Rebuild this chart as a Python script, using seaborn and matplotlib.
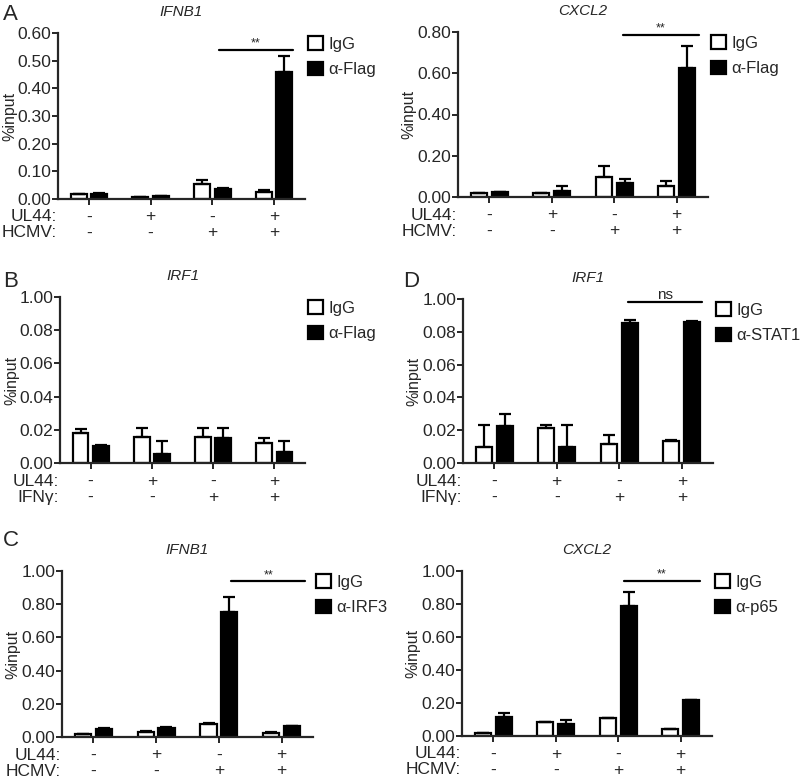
import numpy as np
import pandas as pd
import seaborn as sns
import matplotlib
matplotlib.use("Agg")
from matplotlib import pyplot as plt
from matplotlib.patches import Patch
from matplotlib.transforms import offset_copy

sns.set_style("ticks")
plt.rcParams['font.family'] = ['Liberation Sans', 'DejaVu Sans']

# ---- data ----
groups = ["g1", "g2", "g3", "g4"]
ul44 = ["-", "+", "-", "+"]
treat = ["-", "-", "+", "+"]

# A: IFNB1, IgG vs a-Flag
a_igg = [0.018, 0.007, 0.055, 0.025]
a_igg_err = [0.0, 0.0, 0.015, 0.009]
a_ab = [0.018, 0.010, 0.035, 0.460]
a_ab_err = [0.002, 0.002, 0.003, 0.056]

# A right: CXCL2, IgG vs a-Flag
a2_igg = [0.018, 0.018, 0.097, 0.054]
a2_igg_err = [0.0, 0.0, 0.052, 0.026]
a2_ab = [0.022, 0.029, 0.070, 0.625]
a2_ab_err = [0.0, 0.025, 0.016, 0.108]

# B: IRF1, IgG vs a-Flag
b_igg = [0.018, 0.0155, 0.0155, 0.012]
b_igg_err = [0.0022, 0.0056, 0.0056, 0.003]
b_ab = [0.0102, 0.0056, 0.0149, 0.0068]
b_ab_err = [0.0008, 0.0077, 0.006, 0.0065]

# D: IRF1, IgG vs a-STAT1
d_igg = [0.0096, 0.0212, 0.0116, 0.0135]
d_igg_err = [0.0133, 0.0017, 0.0055, 0.0008]
d_ab = [0.0225, 0.0096, 0.0853, 0.0861]
d_ab_err = [0.0075, 0.0133, 0.002, 0.0003]

# C: IFNB1, IgG vs a-IRF3
c_igg = [0.018, 0.032, 0.080, 0.026]
c_igg_err = [0.0, 0.003, 0.005, 0.003]
c_ab = [0.048, 0.056, 0.755, 0.066]
c_ab_err = [0.005, 0.004, 0.086, 0.003]

# C right: CXCL2, IgG vs a-p65
c2_igg = [0.018, 0.087, 0.107, 0.040]
c2_igg_err = [0.0, 0.0, 0.003, 0.004]
c2_ab = [0.117, 0.073, 0.790, 0.218]
c2_ab_err = [0.024, 0.024, 0.081, 0.003]

W, H = 800, 778
fig = plt.figure(figsize=(W / 100, H / 100), dpi=100)


def make_axes(l, r, t, b):
    return fig.add_axes([l / W, 1 - b / H, (r - l) / W, (b - t) / H])


def panel(ax, gene, ab, igg, igg_err, abv, ab_err, ymax, yticks, ylabels,
          row2, sig=None):
    df = pd.DataFrame({
        "group": groups * 2,
        "ab": ["IgG"] * 4 + [ab] * 4,
        "val": igg + abv,
        "err": igg_err + ab_err,
    })
    sns.barplot(data=df, x="group", y="val", hue="ab", order=groups,
                hue_order=["IgG", ab], palette={"IgG": "white", ab: "black"},
                edgecolor="black", linewidth=1.6, width=0.66, gap=0.22,
                errorbar=None, legend=False, ax=ax)
    # one-sided error bars (upper only)
    for cont, errs in zip(ax.containers, [igg_err, ab_err]):
        xs = [p.get_x() + p.get_width() / 2 for p in cont]
        ys = [p.get_height() for p in cont]
        ax.errorbar(xs, ys, yerr=[np.zeros(4), errs], fmt="none",
                    ecolor="black", elinewidth=1.6, capsize=4, capthick=1.6)
    ax.set_xlim(-0.5, 3.5)
    ax.set_ylim(0, ymax)
    ax.set_yticks(yticks)
    ax.set_yticklabels(ylabels, fontsize=12.5)
    ax.set_xticks(range(4))
    ax.set_xticklabels([])
    ax.set_xlabel("")
    ax.set_ylabel("%input", fontsize=11.5)
    ax.yaxis.set_label_coords(-0.165, 0.5)
    sns.despine(ax=ax)
    for s in ["left", "bottom"]:
        ax.spines[s].set_linewidth(1.6)
    ax.tick_params(axis="both", length=4, width=1.4, pad=1)
    ax.text(0.5, 1.0, gene, transform=offset_copy(ax.transAxes, fig, y=21, units="dots"),
            ha="center", va="center", fontsize=11, style="italic")

    # condition rows under the axis
    tr1 = offset_copy(ax.get_xaxis_transform(), fig, y=-18, units="dots")
    tr2 = offset_copy(ax.get_xaxis_transform(), fig, y=-34, units="dots")
    for i in range(4):
        ax.text(i, 0, ul44[i], transform=tr1, ha="center", va="center", fontsize=12.5)
        ax.text(i, 0, treat[i], transform=tr2, ha="center", va="center", fontsize=12.5)
    lt1 = offset_copy(ax.transAxes, fig, x=-1, y=-18, units="dots")
    lt2 = offset_copy(ax.transAxes, fig, x=-1, y=-34, units="dots")
    ax.text(0, 0, "UL44:", transform=lt1, ha="right", va="center", fontsize=12.5)
    ax.text(0, 0, row2, transform=lt2, ha="right", va="center", fontsize=12.5)

    # legend
    handles = [Patch(facecolor="white", edgecolor="black", linewidth=1.6, label="IgG"),
               Patch(facecolor="black", edgecolor="black", linewidth=1.6, label="\u03b1-" + ab[2:])]
    ax.legend(handles=handles, loc="upper left", bbox_to_anchor=(1.0, 1.0),
              frameon=False, fontsize=12, handlelength=0.85, handleheight=0.85,
              handletextpad=0.35, borderaxespad=0.2, borderpad=0.0, labelspacing=0.6)

    if sig is not None:
        x0, x1, y, label = sig
        ax.plot([x0, x1], [y, y], color="black", lw=1.6, clip_on=False)
        ax.text((x0 + x1) / 2, y, label, ha="center", va="bottom",
                fontsize=9 if label == "**" else 11)


t6 = [0, 0.1, 0.2, 0.3, 0.4, 0.5, 0.6]
t8 = [0, 0.2, 0.4, 0.6, 0.8]
t10 = [0, 0.2, 0.4, 0.6, 0.8, 1.0]
tsmall = [0, 0.02, 0.04, 0.06, 0.08, 0.10]
lsmall = ["0.00", "0.02", "0.04", "0.06", "0.08", "1.00"]


def fmt(ticks):
    return ["%.2f" % t for t in ticks]


ax = make_axes(58, 305, 33, 199)
panel(ax, "IFNB1", "a-Flag", a_igg, a_igg_err, a_ab, a_ab_err, 0.6, t6, fmt(t6),
      "HCMV:", (2.1, 3.3, 0.54, "**"))
ax = make_axes(458, 708, 32, 197)
panel(ax, "CXCL2", "a-Flag", a2_igg, a2_igg_err, a2_ab, a2_ab_err, 0.8, t8, fmt(t8),
      "HCMV:", (2.14, 3.35, 0.787, "**"))
ax = make_axes(60, 305, 297, 463)
panel(ax, "IRF1", "a-Flag", b_igg, b_igg_err, b_ab, b_ab_err, 0.1, tsmall, lsmall,
      "IFN\u03b3:")
ax = make_axes(463, 713, 299, 463)
panel(ax, "IRF1", "a-STAT1", d_igg, d_igg_err, d_ab, d_ab_err, 0.1, tsmall, lsmall,
      "IFN\u03b3:", (2.14, 3.33, 0.098, "ns"))
ax = make_axes(62, 313, 571, 737)
panel(ax, "IFNB1", "a-IRF3", c_igg, c_igg_err, c_ab, c_ab_err, 1.0, t10, fmt(t10),
      "HCMV:", (2.19, 3.38, 0.94, "**"))
ax = make_axes(462, 712, 571, 736)
panel(ax, "CXCL2", "a-p65", c2_igg, c2_igg_err, c2_ab, c2_ab_err, 1.0, t10, fmt(t10),
      "HCMV:", (2.09, 3.3, 0.94, "**"))

for letter, x, y in [("A", 3, 14), ("B", 3, 282), ("D", 403, 282), ("C", 3, 540)]:
    fig.text(x / W, 1 - y / H, letter, fontsize=16, ha="left", va="center")

fig.savefig("out.png", dpi=100)
